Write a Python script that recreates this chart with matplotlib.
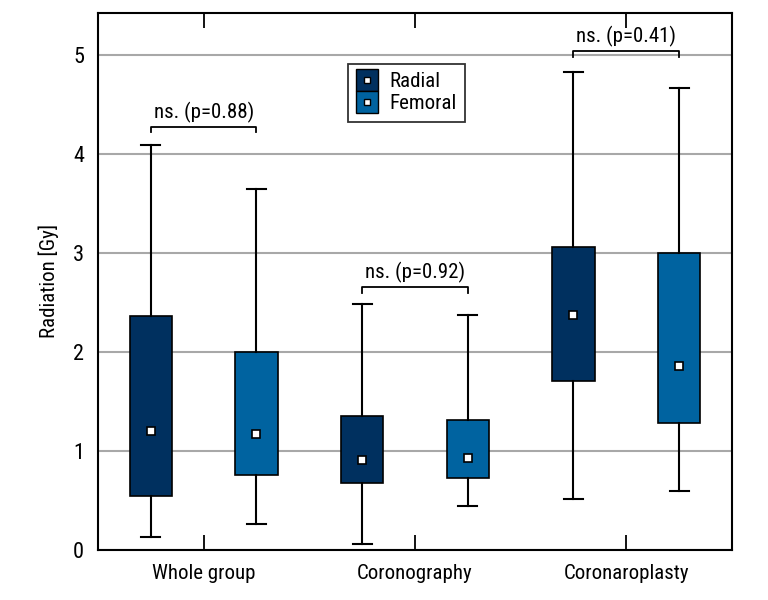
import numpy as np
import matplotlib.pyplot as plt
from matplotlib.lines import Line2D
from matplotlib import font_manager

names = {f.name for f in font_manager.fontManager.ttflist}
narrow = [n for n in ['Liberation Sans Narrow', 'Roboto Condensed',
                      'DejaVu Sans Condensed', 'Roboto'] if n in names]
plt.rcParams['font.family'] = narrow + ['DejaVu Sans']
if narrow and narrow[0] == 'DejaVu Sans Condensed':
    plt.rcParams['font.stretch'] = 'condensed'

groups = ['Whole group', 'Coronography', 'Coronaroplasty']
series = ['Radial', 'Femoral']
colors = ['#00305f', '#0063a0']

# per group: [radial, femoral]
whislo = [[0.135, 0.26], [0.06, 0.44], [0.52, 0.60]]
q1 = [[0.545, 0.755], [0.673, 0.73], [1.71, 1.28]]
med = [[1.205, 1.17], [0.91, 0.93], [2.38, 1.86]]
q3 = [[2.37, 2.0], [1.357, 1.31], [3.06, 3.0]]
whishi = [[4.09, 3.65], [2.49, 2.38], [4.83, 4.67]]
pvals = ['0.88', '0.92', '0.41']
bracket_y = [4.28, 2.657, 5.04]

fig = plt.figure(figsize=(7.68, 6), dpi=100)
ax = fig.add_axes([0.1276, 0.0833, 0.8255, 0.8955])

offsets = [-0.25, 0.25]
for s in range(2):
    stats = []
    pos = []
    for g in range(3):
        stats.append(dict(whislo=whislo[g][s], q1=q1[g][s], med=med[g][s],
                          q3=q3[g][s], whishi=whishi[g][s], fliers=[]))
        pos.append(g + 0.5 + offsets[s])
    ax.bxp(stats, positions=pos, widths=0.2, capwidths=0.09, patch_artist=True,
           showfliers=False,
           boxprops=dict(facecolor=colors[s], edgecolor='black', linewidth=1.2),
           whiskerprops=dict(color='black', linewidth=1.5),
           capprops=dict(color='black', linewidth=1.5),
           medianprops=dict(linestyle='none'), zorder=3)
    ax.plot(pos, [med[g][s] for g in range(3)], linestyle='none', marker='s',
            markersize=6, markerfacecolor='white', markeredgecolor='black',
            markeredgewidth=1.2, zorder=4)

# significance brackets
for g in range(3):
    x0, x1 = g + 0.25, g + 0.75
    y = bracket_y[g]
    ax.plot([x0, x0, x1, x1], [y - 0.06, y, y, y - 0.06], color='black',
            linewidth=1.3, zorder=4)
    ax.text(g + 0.5, y + 0.04, 'ns. (p=' + pvals[g] + ')', ha='center',
            va='bottom', fontsize=15)

ax.set_xlim(0, 3)
ax.set_ylim(0, 5.43)
ax.set_xticks([0.5, 1.5, 2.5])
ax.set_xticklabels(groups, fontsize=15)
ax.set_yticks(range(6))
ax.set_yticklabels([str(i) for i in range(6)], fontsize=16)
ax.tick_params(axis='x', direction='in', length=11, width=1.3, top=True, pad=10)
ax.tick_params(axis='y', length=0, pad=10)
ax.yaxis.grid(True, color='#a8a8a8', linewidth=1.5, zorder=0)
ax.set_axisbelow(True)
for sp in ax.spines.values():
    sp.set_linewidth(1.5)
ax.set_ylabel('Radiation [Gy]', fontsize=15, labelpad=10)

handles = []
for c in colors:
    big = Line2D([], [], linestyle='none', marker='s', markersize=16,
                 markerfacecolor=c, markeredgecolor='black', markeredgewidth=1)
    small = Line2D([], [], linestyle='none', marker='s', markersize=5,
                   markerfacecolor='white', markeredgecolor='black',
                   markeredgewidth=1)
    handles.append((big, small))
leg = ax.legend(handles, series, loc='upper left', bbox_to_anchor=(0.394, 0.905),
                fontsize=15, frameon=True, fancybox=False, edgecolor='black',
                handlelength=1.0, handletextpad=0.6, borderpad=0.4,
                labelspacing=0.15, borderaxespad=0)
leg.get_frame().set_linewidth(1.3)

fig.savefig('out.png', dpi=100)
